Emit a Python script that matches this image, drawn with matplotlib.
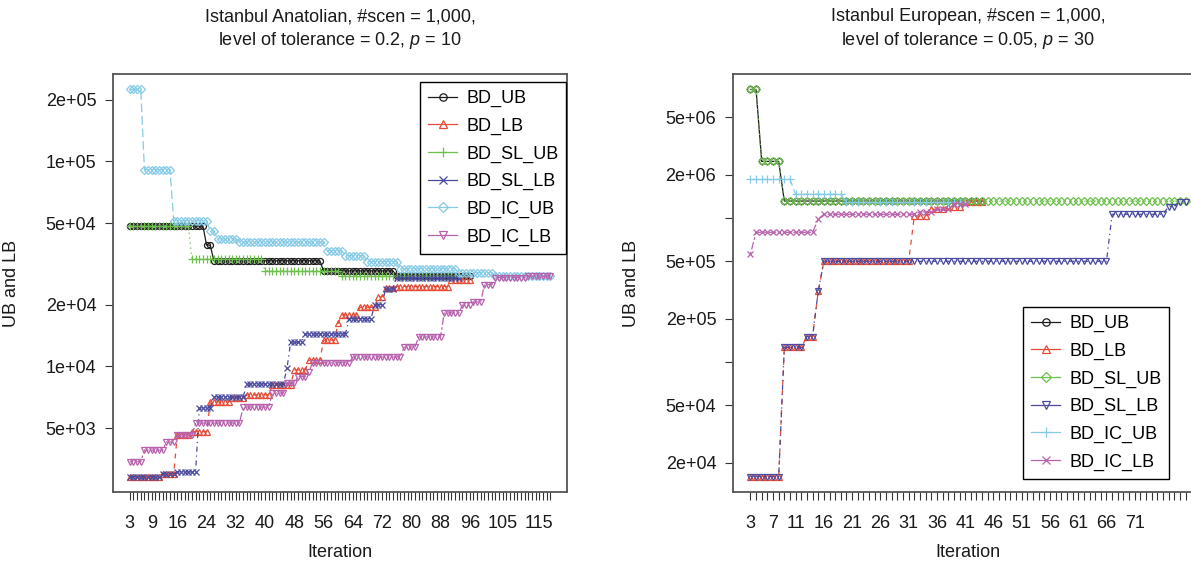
import numpy as np
import matplotlib
matplotlib.use("Agg")
import matplotlib.pyplot as plt
from matplotlib.lines import Line2D
from matplotlib.ticker import NullLocator

plt.rcParams['font.family'] = ['Liberation Sans', 'DejaVu Sans']
plt.rcParams['mathtext.fontset'] = 'custom'
plt.rcParams['mathtext.it'] = 'Liberation Sans:italic'
plt.rcParams['mathtext.rm'] = 'Liberation Sans'

# ---------------- data (plateaus: (first iteration, value)) ----------------
series_names = ["BD_UB", "BD_LB", "BD_SL_UB", "BD_SL_LB", "BD_IC_UB", "BD_IC_LB"]

# Left panel: Istanbul Anatolian
ana_first_iter, ana_last_iter = 3, 118
ana_xtick_labels = [3, 9, 16, 24, 32, 40, 48, 56, 64, 72, 80, 88, 96, 105, 115]
ana_ytick_values = [5e3, 1e4, 2e4, 5e4, 1e5, 2e5]
ana_ytick_labels = ["5e+03", "1e+04", "2e+04", "5e+04", "1e+05", "2e+05"]

ana_bd_ub = [(3, 4.83e4), (24, 3.9e4), (26, 3.27e4), (56, 2.92e4), (76, 2.76e4)]
ana_bd_ub_end = 96
ana_bd_lb = [(3, 2.9e3), (12, 3.0e3), (16, 4.62e3), (20, 4.8e3), (25, 6.7e3), (31, 7.0e3),
             (35, 7.25e3), (42, 8.1e3), (48, 9.6e3), (52, 1.07e4), (56, 1.34e4), (60, 1.63e4),
             (61, 1.78e4), (66, 1.94e4), (71, 2.18e4), (73, 2.41e4), (76, 2.45e4), (91, 2.65e4)]
ana_bd_lb_end = 96
ana_bd_sl_ub = [(3, 4.83e4), (20, 3.33e4), (40, 2.92e4), (61, 2.77e4)]
ana_bd_sl_ub_end = 93
ana_bd_sl_lb = [(3, 2.9e3), (12, 3.0e3), (16, 3.05e3), (22, 6.26e3), (26, 7.08e3), (35, 8.2e3),
                (46, 9.8e3), (47, 1.31e4), (51, 1.44e4), (63, 1.71e4), (70, 2.0e4), (73, 2.39e4),
                (76, 2.7e4)]
ana_bd_sl_lb_end = 93
ana_bd_ic_ub = [(3, 2.24e5), (7, 9.1e4), (15, 5.12e4), (25, 4.57e4), (27, 4.18e4), (33, 4.04e4),
                (57, 3.66e4), (62, 3.46e4), (68, 3.24e4), (77, 2.99e4), (93, 2.86e4), (103, 2.77e4)]
ana_bd_ic_ub_end = 118
ana_bd_ic_lb = [(3, 3.42e3), (7, 3.9e3), (13, 4.27e3), (16, 4.62e3), (21, 5.29e3), (34, 6.33e3),
                (42, 7.4e3), (46, 8.3e3), (49, 8.9e3), (52, 9.4e3), (53, 1.04e4), (64, 1.11e4),
                (78, 1.24e4), (82, 1.39e4), (89, 1.82e4), (94, 1.99e4), (97, 2.06e4), (100, 2.5e4),
                (103, 2.71e4), (112, 2.75e4)]
ana_bd_ic_lb_end = 118

# Right panel: Istanbul European
eur_first_iter, eur_last_iter = 3, 80
eur_xtick_labels = [3, 7, 11, 16, 21, 26, 31, 36, 41, 46, 51, 56, 61, 66, 71]
eur_ytick_values = [2e4, 5e4, 1e5, 2e5, 5e5, 1e6, 2e6, 5e6]
eur_ytick_labels = ["2e+04", "5e+04", "", "2e+05", "5e+05", "", "2e+06", "5e+06"]

eur_bd_ub = [(3, 7.8e6), (5, 2.47e6), (9, 1.31e6)]
eur_bd_ub_end = 44
eur_bd_lb = [(3, 1.6e4), (9, 1.26e5), (13, 1.5e5), (15, 3.1e5), (16, 5.0e5), (32, 1.03e6),
             (35, 1.15e6), (38, 1.2e6), (41, 1.29e6)]
eur_bd_lb_end = 44
eur_bd_sl_ub = [(3, 7.8e6), (5, 2.47e6), (9, 1.31e6)]
eur_bd_sl_ub_end = 80
eur_bd_sl_lb = [(3, 1.6e4), (9, 1.26e5), (13, 1.5e5), (15, 3.1e5), (16, 5.0e5), (67, 1.06e6),
                (77, 1.2e6), (79, 1.3e6)]
eur_bd_sl_lb_end = 80
eur_bd_ic_ub = [(3, 1.85e6), (11, 1.46e6), (20, 1.28e6)]
eur_bd_ic_ub_end = 41
eur_bd_ic_lb = [(3, 5.6e5), (4, 7.95e5), (15, 9.8e5), (16, 1.06e6), (33, 1.1e6), (36, 1.15e6),
                (39, 1.25e6)]
eur_bd_ic_lb_end = 41

# ---------------- styles ----------------
colors = ["#1c1c1c", "#E64B35", "#6DC04B", "#4A4A9E", "#86CBE6", "#B862AE"]
linestyles = ["-", (0, (4, 4)), (0, (1, 3)), (0, (1, 3, 4, 3)), (0, (7, 3)), (0, (2, 2, 6, 2))]
ana_markers = ["o", "^", "+", "x", "D", "v"]
eur_markers = ["o", "^", "D", "v", "+", "x"]
msize = {"o": 4.3, "^": 5, "+": 6, "x": 5, "D": 3.8, "v": 5}


def expand(runs, end):
    xs, ys = [], []
    starts = [s for s, _ in runs] + [end + 1]
    for (s, v), nxt in zip(runs, starts[1:]):
        for it in range(s, nxt):
            xs.append(it)
            ys.append(v)
    return xs, ys


fig = plt.figure(figsize=(11.91, 5.61), dpi=100)
W, H = 1191.0, 561.0


def make_panel(rect, series, end_list, markers, first, last, xlabels, yvals, ylabs,
               title, legend_xy, ylabel_x):
    ax = fig.add_axes(rect)
    allv = []
    for i, (runs, end) in enumerate(zip(series, end_list)):
        xs, ys = expand(runs, end)
        allv += ys
        m = markers[i]
        ax.plot(xs, ys, color=colors[i], linestyle=linestyles[i], linewidth=0.9,
                marker=m, markersize=msize[m], markerfacecolor="none",
                markeredgewidth=0.9, zorder=2 + i)
    ax.set_yscale("log")
    lo, hi = np.log10(min(allv)), np.log10(max(allv))
    pad = 0.04 * (hi - lo)
    ax.set_ylim(10 ** (lo - pad), 10 ** (hi + pad))
    xpad = 0.04 * (last - first)
    ax.set_xlim(first - xpad, last + xpad)
    its = list(range(first, last + 1))
    ax.set_xticks(its)
    ax.set_xticklabels([str(i) if i in xlabels else "" for i in its])
    ax.set_yticks(yvals)
    ax.set_yticklabels(ylabs)
    ax.yaxis.set_minor_locator(NullLocator())
    ax.xaxis.set_minor_locator(NullLocator())
    ax.tick_params(axis="both", direction="out", length=6, width=0.8, color="#333333",
                   labelsize=13, labelcolor="#1a1a1a")
    ax.tick_params(axis="x", pad=10.5)
    ax.tick_params(axis="y", pad=6)
    for sp in ax.spines.values():
        sp.set_color("#555555")
        sp.set_linewidth(1.3)
    ax.set_title(title, fontsize=13, pad=21, linespacing=1.3, color="#1a1a1a")
    ax.set_xlabel("Iteration", fontsize=13, labelpad=9, color="#1a1a1a")
    ax.set_ylabel("UB and LB", fontsize=13, color="#1a1a1a")
    ax.yaxis.set_label_coords(ylabel_x, 0.5)
    handles = [Line2D([], [], color=colors[i], linestyle="-", linewidth=0.9,
                      marker=markers[i], markersize=msize[markers[i]] + 1,
                      markerfacecolor="none", markeredgewidth=0.9) for i in range(6)]
    leg = ax.legend(handles, series_names, loc="upper left",
                    bbox_to_anchor=legend_xy, bbox_transform=fig.transFigure,
                    fontsize=13, frameon=True, fancybox=False, framealpha=1,
                    edgecolor="black", handlelength=1.6, handletextpad=0.5,
                    labelspacing=0.58, borderpad=0.45, borderaxespad=0)
    leg.get_frame().set_linewidth(1.0)
    return ax


ana_series = [ana_bd_ub, ana_bd_lb, ana_bd_sl_ub, ana_bd_sl_lb, ana_bd_ic_ub, ana_bd_ic_lb]
ana_ends = [ana_bd_ub_end, ana_bd_lb_end, ana_bd_sl_ub_end, ana_bd_sl_lb_end,
            ana_bd_ic_ub_end, ana_bd_ic_lb_end]
eur_series = [eur_bd_ub, eur_bd_lb, eur_bd_sl_ub, eur_bd_sl_lb, eur_bd_ic_ub, eur_bd_ic_lb]
eur_ends = [eur_bd_ub_end, eur_bd_lb_end, eur_bd_sl_ub_end, eur_bd_sl_lb_end,
            eur_bd_ic_ub_end, eur_bd_ic_lb_end]

make_panel([113 / W, 1 - 492 / H, 454 / W, 418 / H], ana_series, ana_ends, ana_markers,
           ana_first_iter, ana_last_iter, ana_xtick_labels, ana_ytick_values, ana_ytick_labels,
           "Istanbul Anatolian, #scen = 1,000,\nlevel of tolerance = 0.2, $p$ = 10",
           (420 / W, 1 - 82 / H), -0.205)
make_panel([733 / W, 1 - 492 / H, 470 / W, 418 / H], eur_series, eur_ends, eur_markers,
           eur_first_iter, eur_last_iter, eur_xtick_labels, eur_ytick_values, eur_ytick_labels,
           "Istanbul European, #scen = 1,000,\nlevel of tolerance = 0.05, $p$ = 30",
           (1023 / W, 1 - 307 / H), -0.198)

fig.savefig("out.png", dpi=100, facecolor="white")
